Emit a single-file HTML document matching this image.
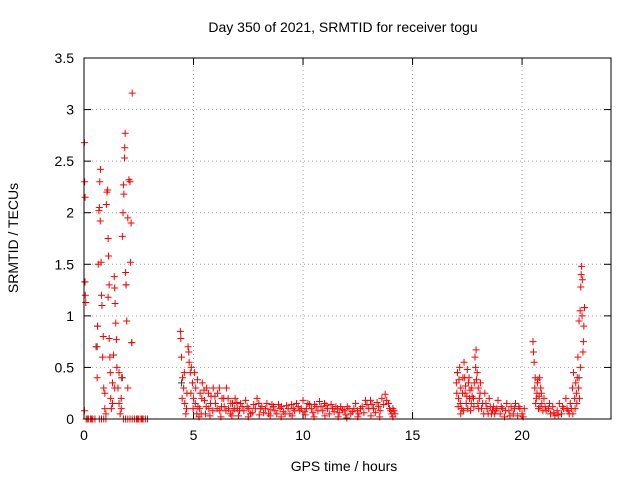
<!DOCTYPE html>
<html><head><meta charset="utf-8"><style>
body{margin:0;background:#fff;}
svg text{font-family:"Liberation Sans",sans-serif;font-size:14px;fill:#000;}
</style></head><body>
<svg id="chart" width="640" height="480" viewBox="0 0 640 480" xmlns="http://www.w3.org/2000/svg">
<rect width="640" height="480" fill="#fff"/>
<text x="343" y="32" text-anchor="middle">Day 350 of 2021, SRMTID for receiver togu</text>
<text x="344" y="471" text-anchor="middle">GPS time / hours</text>
<text transform="translate(18,238) rotate(-90)" text-anchor="middle">SRMTID / TECUs</text>
<g id="grid"></g>
<g id="ticks"></g>
<g id="marks"></g>
<rect x="84" y="58" width="527" height="361" fill="none" stroke="#000" stroke-width="1"/>
</svg>
<script>
const xTicks=[0,5,10,15,20];
const yTicks=[0,0.5,1,1.5,2,2.5,3,3.5];
const yTickLabels=["0","0.5","1","1.5","2","2.5","3","3.5"];
const darkPoints=[[0.04,1.33],[0.62,0.9],[1.92,1.3],[2.18,0.74],[4.45,0.35],[17.05,0.45],[22.6,0.4],[22.85,1.08],[0.6,0.7],[1.75,0.4]];
const zeroTimes=[0.1,0.2,0.3,0.4,0.5,0.7,0.8,0.9,1.0,1.8,1.9,2.0,2.1,2.2,2.3,2.4,2.5,2.6,2.7,2.8,2.9,0.15,0.35,2.45,2.65];
const points=[[0.02,2.68],[0.03,2.3],[0.05,2.15],[0.04,1.33],[0.06,1.2],[0.08,1.13],[0.02,0.08],
[0.55,0.7],[0.6,0.4],[0.62,0.9],[0.65,1.5],[0.68,2.02],[0.7,2.05],[0.72,2.3],[0.75,2.42],[0.74,1.92],[0.78,1.52],[0.8,1.2],[0.82,1.1],[0.85,0.6],[0.88,0.8],[0.9,0.3],[0.95,0.1],[1.0,0.05],[1.02,2.08],[1.05,2.2],[1.08,2.22],[1.1,1.75],[1.12,1.58],[1.15,1.3],[1.1,1.18],[1.15,0.78],[1.18,0.6],[1.2,0.45],[1.22,0.2],[1.25,0.1],[1.3,0.35],[1.35,0.62],[1.38,1.38],[1.4,1.27],[1.42,1.12],[1.45,0.93],[1.48,0.77],[1.5,0.5],[1.55,0.3],[1.6,0.15],[1.65,0.05],[1.7,0.2],[1.72,0.4],[1.75,1.77],[1.78,2.0],[1.8,2.27],[1.82,2.18],[1.85,2.53],[1.86,2.63],[1.88,2.77],[1.9,1.42],[1.92,1.3],[1.95,0.95],[2.0,1.95],[2.05,2.32],[2.1,2.3],[2.12,1.52],[2.15,1.9],[2.2,3.16],[2.18,0.74],[2.0,0.3],[1.7,0.1],[1.4,0.3],[1.6,0.45],[0.95,0.25],[1.3,0.15],
[4.4,0.85],[4.42,0.78],[4.45,0.6],[4.5,0.4],[4.55,0.3],[4.6,0.15],[4.65,0.05],[4.7,0.25],[4.75,0.7],[4.78,0.65],[4.8,0.55],[4.85,0.45],[4.9,0.5],[4.95,0.35],[5.0,0.2],[5.05,0.45],[5.1,0.3],[5.15,0.05],[5.2,0.12],[5.3,0.25],[5.35,0.05],[5.4,0.35],[5.5,0.18],[5.55,0.05],[5.6,0.3],[5.7,0.1],[5.8,0.22],[5.9,0.3],[6.0,0.15],[6.1,0.25],[6.2,0.08],[6.3,0.2],[6.4,0.12],[6.5,0.3],[6.6,0.1],[6.7,0.15],[6.8,0.08],[6.9,0.2],[7.0,0.1],
[7.15,0.15],[7.3,0.08],[7.45,0.12],[7.6,0.05],[7.75,0.14],[7.9,0.2],[8.05,0.1],[8.2,0.06],[8.35,0.15],[8.5,0.09],[8.65,0.12],[8.8,0.05],[8.95,0.1],[9.1,0.07],[9.25,0.13],[9.4,0.05],[9.55,0.1],[9.7,0.15],[9.85,0.08],[10.0,0.18],[10.15,0.1],[10.3,0.14],[10.45,0.06],[10.6,0.12],[10.75,0.17],[10.9,0.08],[11.05,0.13],[11.2,0.05],[11.35,0.1],[11.5,0.12],[11.65,0.06],[11.8,0.09],[11.95,0.04],[12.1,0.1],[12.25,0.07],[12.4,0.15],[12.55,0.05],[12.7,0.12],[12.85,0.18],[13.0,0.1],[13.15,0.14],[13.3,0.06],[13.45,0.12],[13.6,0.2],[13.75,0.24],[13.9,0.15],[14.0,0.08],[14.1,0.1],[14.2,0.05],
[7.05,0.03],[7.5,0.02],[8.0,0.04],[8.5,0.03],[9.0,0.02],[9.5,0.03],[10.1,0.04],[10.5,0.02],[11.0,0.03],[11.6,0.02],[12.0,0.01],[12.5,0.02],[13.1,0.03],[13.5,0.02],[14.1,0.02],[5.25,0.02],[5.75,0.03],[6.25,0.02],[6.75,0.03],
[17.0,0.35],[17.05,0.45],[17.1,0.2],[17.15,0.5],[17.2,0.3],[17.25,0.1],[17.3,0.4],[17.35,0.55],[17.4,0.25],[17.45,0.15],[17.5,0.48],[17.55,0.35],[17.6,0.2],[17.7,0.3],[17.8,0.12],[17.85,0.6],[17.9,0.67],[17.95,0.45],[18.0,0.3],[18.05,0.2],[18.1,0.35],[18.2,0.15],[18.3,0.25],[18.4,0.1],[18.5,0.2],[18.6,0.05],[18.7,0.12],[18.8,0.08],[18.9,0.18],[19.0,0.05],[19.1,0.1],[19.2,0.02],[19.3,0.15],[19.4,0.08],[19.5,0.12],[19.6,0.05],[19.7,0.15],[19.8,0.03],[19.9,0.1],[20.0,0.05],[20.1,0.1],[17.2,0.05],[17.65,0.08],
[20.5,0.75],[20.52,0.65],[20.55,0.55],[20.6,0.4],[20.65,0.2],[20.7,0.35],[20.75,0.1],[20.8,0.4],[20.85,0.3],[20.9,0.15],[21.0,0.2],[21.1,0.08],[21.2,0.1],[21.3,0.05],[21.4,0.12],[21.5,0.03],[21.6,0.08],[21.7,0.15],[21.8,0.05],[21.9,0.1],[22.0,0.2],[22.1,0.08],[22.2,0.15],[22.3,0.3],[22.35,0.45],[22.4,0.2],[22.45,0.35],[22.5,0.15],[22.55,0.6],[22.6,0.95],[22.65,1.05],[22.68,1.28],[22.7,1.4],[22.72,1.48],[22.75,1.35],[22.8,0.75],[22.78,0.65],[22.85,1.08]];
const extraPoints=[[4.48,0.2],[4.58,0.45],[4.68,0.1],[4.88,0.25],[4.98,0.1],[5.08,0.15],[5.18,0.38],[5.28,0.1],[5.38,0.2],[5.48,0.28],[5.58,0.12],[5.68,0.25],[5.78,0.15],[5.88,0.08],[5.98,0.22],[6.08,0.1],[6.18,0.3],[6.28,0.12],[6.38,0.2],[6.48,0.08],[6.58,0.2],[6.68,0.05],[6.78,0.15],[6.88,0.1],[6.98,0.16],
[7.1,0.08],[7.22,0.12],[7.38,0.18],[7.52,0.1],[7.68,0.06],[7.82,0.1],[7.98,0.15],[8.12,0.12],[8.28,0.1],[8.42,0.05],[8.58,0.14],[8.72,0.08],[8.88,0.14],[9.02,0.12],[9.18,0.05],[9.32,0.1],[9.48,0.14],[9.62,0.08],[9.78,0.12],[9.92,0.1],[10.08,0.07],[10.22,0.15],[10.38,0.1],[10.52,0.14],[10.68,0.08],[10.82,0.12],[10.98,0.15],[11.12,0.1],[11.28,0.14],[11.42,0.07],[11.58,0.1],[11.72,0.12],[11.88,0.08],[12.02,0.12],[12.18,0.05],[12.32,0.1],[12.48,0.08],[12.62,0.1],[12.78,0.06],[12.92,0.14],[13.08,0.18],[13.22,0.1],[13.38,0.16],[13.52,0.08],[13.68,0.14],[13.82,0.18],[13.95,0.1],[14.05,0.05],[14.15,0.08],
[17.02,0.25],[17.08,0.12],[17.12,0.38],[17.18,0.15],[17.28,0.25],[17.32,0.08],[17.38,0.4],[17.42,0.32],[17.48,0.22],[17.52,0.1],[17.58,0.4],[17.62,0.28],[17.68,0.15],[17.72,0.22],[17.78,0.2],[17.82,0.35],[17.88,0.5],[17.92,0.38],[17.98,0.15],[18.02,0.1],[18.08,0.25],[18.15,0.1],[18.25,0.05],[18.35,0.15],[18.45,0.05],[18.55,0.12],[18.65,0.08],[18.75,0.05],[18.85,0.1],[19.05,0.12],[19.25,0.08],[19.45,0.03],[19.65,0.1],[19.85,0.12],[20.05,0.02],
[20.58,0.3],[20.62,0.15],[20.68,0.25],[20.72,0.38],[20.78,0.22],[20.82,0.12],[20.88,0.25],[20.95,0.08],[21.05,0.12],[21.25,0.15],[21.45,0.06],[21.65,0.04],[21.85,0.12],[22.05,0.1],[22.15,0.05],[22.25,0.1],[22.32,0.05],[22.42,0.1],[22.48,0.25],[22.52,0.4],[22.58,0.3],[22.62,0.2],[22.66,0.5],[22.74,1.0],[22.82,0.9]];
const NS='http://www.w3.org/2000/svg';
const X0=84,X1=611,Y0=419,Y1=58,XMAX=24.06,YMAX=3.5;
function sx(v){return X0+(X1-X0)*v/XMAX;}
function sy(v){return Y0-(Y0-Y1)*v/YMAX;}
function mk(tag,attrs,parent){const e=document.createElementNS(NS,tag);for(const k in attrs)e.setAttribute(k,attrs[k]);parent.appendChild(e);return e;}
const grid=document.getElementById('grid'),ticks=document.getElementById('ticks'),marks=document.getElementById('marks');
xTicks.forEach(t=>{const x=sx(t);
 const g=mk('line',{x1:x,x2:x,y1:Y0,y2:Y1,stroke:'#a0a0a0','stroke-dasharray':'1,3'},grid);
 
 
 mk('line',{x1:x,x2:x,y1:Y0,y2:Y0-7,stroke:'#000'},ticks);
 mk('line',{x1:x,x2:x,y1:Y1,y2:Y1+7,stroke:'#000'},ticks);
 const l=mk('text',{x:x,y:Y0+21,'text-anchor':'middle'},ticks);l.textContent=t;
 
 
});
yTicks.forEach((t,i)=>{const y=sy(t);
 const g=mk('line',{x1:X0,x2:X1,y1:y,y2:y,stroke:'#a0a0a0','stroke-dasharray':'1,3'},grid);
 
 
 mk('line',{x1:X0,x2:X0+7,y1:y,y2:y,stroke:'#000'},ticks);
 mk('line',{x1:X1,x2:X1-7,y1:y,y2:y,stroke:'#000'},ticks);
 const l=mk('text',{x:X0-10,y:y+5,'text-anchor':'end'},ticks);l.textContent=yTickLabels[i];
 
 
});
function plus(x,y,c){const px=sx(x),py=sy(y);
 const p=mk('path',{d:`M${px-3.5},${py}h7M${px},${py-3.5}v7`,stroke:c,'stroke-width':1,fill:'none'},marks);
 
 
}
darkPoints.forEach(p=>plus(p[0],p[1],'#404040'));
zeroTimes.forEach(t=>plus(t,0,'#ff0000'));
points.forEach(p=>plus(p[0],p[1],'#ff0000'));
extraPoints.forEach(p=>plus(p[0],p[1],'#ff0000'));
</script>
</body></html>
